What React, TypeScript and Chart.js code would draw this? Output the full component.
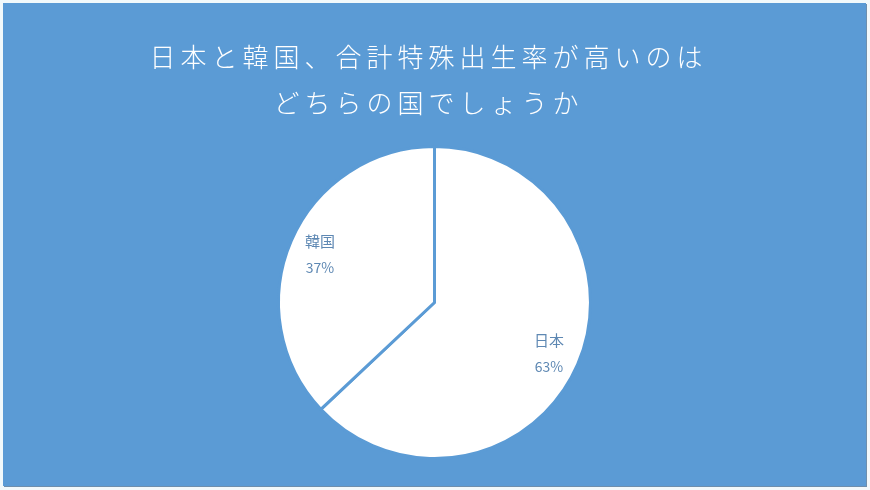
import React, { useEffect, useRef } from "react";
import { Chart, registerables } from "chart.js";

Chart.register(...registerables);

const titleLines = ["日本と韓国、合計特殊出生率が高いのは", "どちらの国でしょうか"];
const countries = ["日本", "韓国"];
const shares = [63, 37];

const BLUE = "#5B9BD5";
const LABEL_COLOR = "#5E88B3";
const FONT = "'Noto Sans CJK JP', 'Noto Sans', sans-serif";

// draws the name + percent inside each slice
const sliceLabels = {
    id: "sliceLabels",
    afterDatasetsDraw(chart: Chart) {
        const ctx = chart.ctx;
        const meta = chart.getDatasetMeta(0);
        ctx.save();
        (ctx as any).letterSpacing = "0px";
        ctx.fillStyle = LABEL_COLOR;
        ctx.textAlign = "center";
        ctx.textBaseline = "middle";
        meta.data.forEach((arc: any, i: number) => {
            const { x, y, startAngle, endAngle, outerRadius } = arc.getProps(
                ["x", "y", "startAngle", "endAngle", "outerRadius"],
                true
            );
            const mid = (startAngle + endAngle) / 2;
            const r = outerRadius * 0.8;
            const cx = x + Math.cos(mid) * r;
            const cy = y + Math.sin(mid) * r;
            ctx.font = `400 15px ${FONT}`;
            ctx.fillText(countries[i], cx, cy - 12);
            ctx.font = `400 14px ${FONT}`;
            ctx.fillText(`${shares[i]}%`, cx, cy + 15);
        });
        ctx.restore();
    },
};

// wider letter spacing for the title, which also sits a bit left of centre
const titleSpacing = {
    id: "titleSpacing",
    beforeDraw(chart: Chart) {
        const ctx = chart.ctx as any;
        ctx.save();
        ctx.translate(-6, 0);
        ctx.letterSpacing = "5px";
    },
    beforeDatasetsDraw(chart: Chart) {
        const ctx = chart.ctx as any;
        ctx.restore();
        ctx.letterSpacing = "0px";
    },
};

const App: React.FC = () => {
    const canvasRef = useRef<HTMLCanvasElement | null>(null);

    useEffect(() => {
        document.body.style.margin = "0";
        if (!canvasRef.current) return;
        const chart = new Chart(canvasRef.current, {
            type: "pie",
            data: {
                labels: countries,
                datasets: [
                    {
                        data: shares,
                        backgroundColor: ["#FFFFFF", "#FFFFFF"],
                        borderColor: BLUE,
                        borderWidth: 3,
                    },
                ],
            },
            options: {
                animation: false,
                responsive: true,
                maintainAspectRatio: false,
                layout: { padding: { top: 4, bottom: 26 } },
                plugins: {
                    legend: { display: false },
                    tooltip: { enabled: false },
                    title: {
                        display: true,
                        text: titleLines,
                        color: "#FFFFFF",
                        font: { family: FONT, size: 26, weight: 300, lineHeight: 1.77 },
                        padding: { top: 27, bottom: 19 },
                    },
                },
            },
            plugins: [titleSpacing, sliceLabels],
        });
        return () => chart.destroy();
    }, []);

    return (
        <div style={{ width: 870, height: 490, background: "#F2F9FB", position: "relative" }}>
            <div
                style={{
                    position: "absolute",
                    left: 3,
                    top: 3,
                    width: 863,
                    height: 483,
                    background: BLUE,
                    boxShadow: "1px 1px 0 #6E8FAD",
                }}
            >
                <canvas ref={canvasRef}></canvas>
            </div>
        </div>
    );
};

export default App;
